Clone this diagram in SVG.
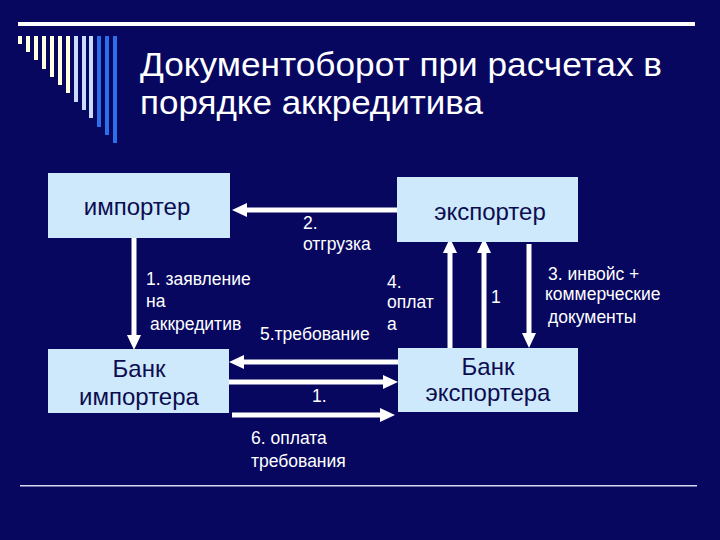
<svg xmlns="http://www.w3.org/2000/svg" width="720" height="540" viewBox="0 0 720 540">
<defs>
<style>
.bg{fill:#07075f}
.box{fill:#cde9fb}
.bt{font-family:"Liberation Sans",Arial,sans-serif;font-size:24px;fill:#0c0c50;text-anchor:middle}
.lb{font-family:"Liberation Sans",Arial,sans-serif;font-size:17.5px;fill:#ffffff}
.ttl{font-family:"Liberation Sans",Arial,sans-serif;font-size:33px;fill:#ffffff}
.ar{stroke:#ffffff;stroke-width:5;fill:none;marker-end:url(#ah)}
.cream{fill:#ffffdd}
.lblue{fill:#c8dcff}
.blue{fill:#2e6ee8}
</style>
<marker id="ah" markerUnits="userSpaceOnUse" markerWidth="16" markerHeight="14" refX="2" refY="7" orient="auto">
<path d="M0,0 L15,7 L0,14 Z" fill="#ffffff"/>
</marker>
</defs>
<rect class="bg" x="0" y="0" width="720" height="540"/>
<g id="decor">
<rect x="18" y="22" width="677" height="4" fill="#ffffff"/>
<rect class="cream" x="18" y="36" width="4" height="8"/>
<rect class="cream" x="26" y="36" width="4" height="16"/>
<rect class="cream" x="34" y="36" width="4" height="24"/>
<rect class="cream" x="42" y="36" width="4" height="33"/>
<rect class="cream" x="50" y="36" width="4" height="41"/>
<rect class="cream" x="58" y="36" width="4" height="49"/>
<rect class="cream" x="66" y="36" width="4" height="57"/>
<rect class="lblue" x="74" y="36" width="4" height="66"/>
<rect class="lblue" x="82" y="36" width="4" height="74"/>
<rect class="lblue" x="89" y="36" width="4" height="82"/>
<rect class="blue" x="97" y="36" width="4" height="91"/>
<rect class="blue" x="105" y="36" width="4" height="99"/>
<rect class="blue" x="113" y="36" width="4" height="107"/>
<rect x="20" y="485" width="677" height="1.5" fill="#d8d8f0"/>
</g>
<g id="title">
<text class="ttl" x="140" y="76" textLength="522" lengthAdjust="spacingAndGlyphs">Документоборот при расчетах в</text>
<text class="ttl" x="140" y="114" textLength="343" lengthAdjust="spacingAndGlyphs">порядке аккредитива</text>
</g>
<g id="connectors">
<line class="ar" x1="397" y1="210" x2="245" y2="210"/>
<line class="ar" x1="134" y1="238" x2="134" y2="337"/>
<line class="ar" x1="400" y1="362" x2="242" y2="362"/>
<line class="ar" x1="229" y1="382" x2="385" y2="382"/>
<line class="ar" x1="232" y1="415" x2="382" y2="415"/>
<line class="ar" x1="450" y1="349" x2="450" y2="251"/>
<line class="ar" x1="484" y1="349" x2="484" y2="251"/>
<line class="ar" x1="529" y1="244" x2="529" y2="335"/>
</g>
<g id="importer">
<rect class="box" x="48" y="173" width="182" height="65"/>
<text class="bt" x="137" y="215">импортер</text>
</g>
<g id="exporter">
<rect class="box" x="397" y="177" width="181" height="65"/>
<text class="bt" x="490" y="220">экспортер</text>
</g>
<g id="bank-importer">
<rect class="box" x="48" y="349" width="181" height="64"/>
<text class="bt" x="139" y="377">Банк</text>
<text class="bt" x="139" y="405">импортера</text>
</g>
<g id="bank-exporter">
<rect class="box" x="398" y="348" width="180" height="64"/>
<text class="bt" x="488" y="375">Банк</text>
<text class="bt" x="488" y="401">экспортера</text>
</g>
<g id="labels">
<text class="lb" x="303" y="229">2.</text>
<text class="lb" x="303" y="250">отгрузка</text>
<text class="lb" x="146" y="285">1. заявление</text>
<text class="lb" x="146" y="307">на</text>
<text class="lb" x="150" y="330">аккредитив</text>
<text class="lb" x="260" y="340">5.требование</text>
<text class="lb" x="387" y="288">4.</text>
<text class="lb" x="387" y="308">оплат</text>
<text class="lb" x="387" y="330">а</text>
<text class="lb" x="491" y="303">1</text>
<text class="lb" x="548" y="280">3. инвойс +</text>
<text class="lb" x="545" y="300">коммерческие</text>
<text class="lb" x="548" y="323">документы</text>
<text class="lb" x="312" y="402">1.</text>
<text class="lb" x="251" y="444">6. оплата</text>
<text class="lb" x="251" y="467">требования</text>
</g>
</svg>
